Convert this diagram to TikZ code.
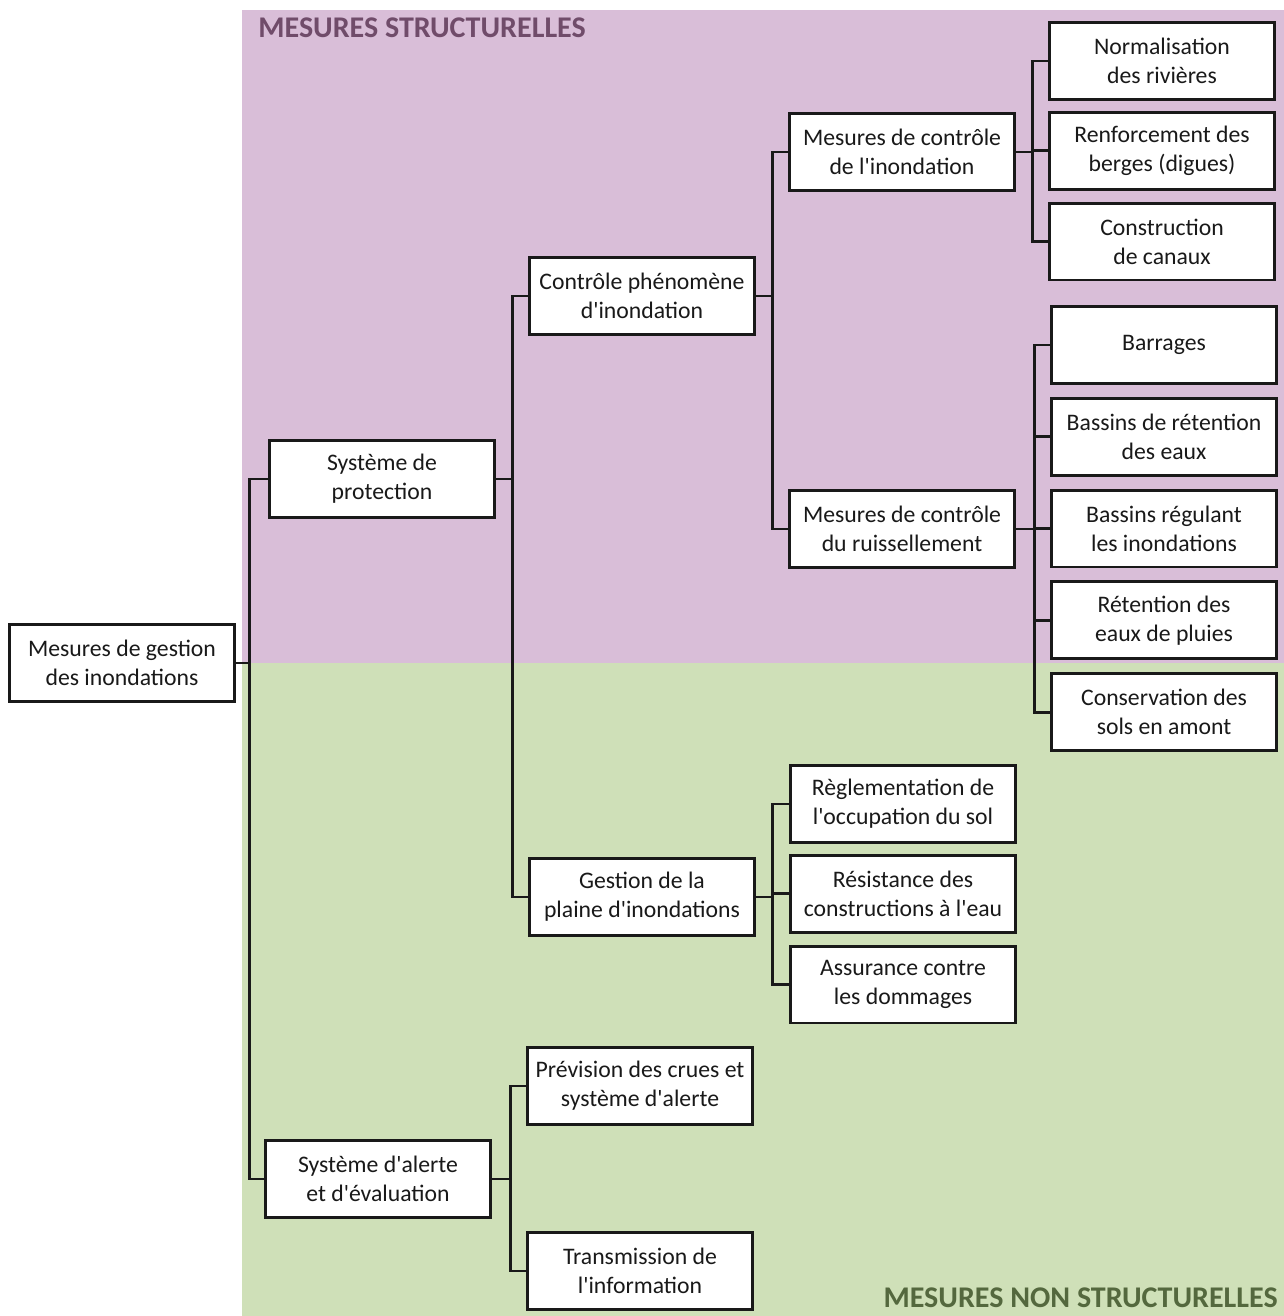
\documentclass[tikz,border=0pt]{standalone}
\usepackage{fontspec}
\newfontfamily\boxfont{Carlito}
\usetikzlibrary{positioning}
\definecolor{structband}{RGB}{217,190,216}
\definecolor{nonstructband}{RGB}{207,224,184}
\definecolor{structtext}{RGB}{112,76,106}
\definecolor{nonstructtext}{RGB}{84,104,62}
\definecolor{ink}{RGB}{25,25,25}

\begin{document}
\begin{tikzpicture}[
  x=0.02cm, y=-0.02cm,
  node distance=0.24cm and 0.5cm,
  box/.style={draw=ink, line width=1.6pt, fill=white, text=ink, minimum width=4.5cm, minimum height=1.54cm, align=center, inner sep=2pt, font=\boxfont\fontsize{13.5}{16.5}\selectfont},
  link/.style={draw=ink, line width=1.6pt},
  band/.style={font=\boxfont\bfseries\fontsize{17.1}{20}\selectfont}
]
\useasboundingbox (0,0) rectangle (1284,1316);
% bands
\fill[structband] (242,10) rectangle (1284,663);
\fill[nonstructband] (242,663) rectangle (1284,1316);
\node[band, text=structtext, anchor=base west, inner sep=0pt] (tstruct) at (258,37) {MESURES STRUCTURELLES};
\node[band, text=nonstructtext, anchor=base east, inner sep=0pt] (tnonstruct) at (1278,1307) {MESURES NON STRUCTURELLES};

% tree
\node[box] (root) at (122,663) {Mesures de gestion\\des inondations};
\node[box] (prot) at (382,479) {Système de\\protection};
\node[box] (alerte) at (378,1179) {Système d'alerte\\et d'évaluation};
\node[box] (phen) at (642,296) {Contrôle phénomène\\d'inondation};
\node[box] (plaine) at (642,897) {Gestion de la\\plaine d'inondations};
\node[box] (prev) at (640,1086) {Prévision des crues et\\système d'alerte};
\node[box] (trans) at (640,1271) {Transmission de\\l'information};
\node[box] (inond) at (902,152) {Mesures de contrôle\\de l'inondation};
\node[box] (ruis) at (902,529) {Mesures de contrôle\\du ruissellement};

\node[box] (norm) at (1162,61) {Normalisation\\des rivières};
\node[box, below=0.2cm of norm] (renf) {Renforcement des\\berges (digues)};
\node[box, below=0.22cm of renf] (constr) {Construction\\de canaux};

\node[box] (barr) at (1164,345) {Barrages};
\node[box, below=of barr] (bass) {Bassins de rétention\\des eaux};
\node[box, below=of bass] (regul) {Bassins régulant\\les inondations};
\node[box, below=of regul] (retent) {Rétention des\\eaux de pluies};
\node[box, below=of retent] (conserv) {Conservation des\\sols en amont};

\node[box] (regl) at (903,804) {Règlementation de\\l'occupation du sol};
\node[box, below=0.2cm of regl] (resist) {Résistance des\\constructions à l'eau};
\node[box, below=0.22cm of resist] (assur) {Assurance contre\\les dommages};

% connectors
\foreach \c in {prot,alerte} \draw[link] (root.east) -- ++(14,0) |- (\c.west);
\foreach \c in {phen,plaine} \draw[link] (prot.east) -- ++(17,0) |- (\c.west);
\foreach \c in {inond,ruis} \draw[link] (phen.east) -- ++(17,0) |- (\c.west);
\foreach \c in {norm,renf,constr} \draw[link] (inond.east) -- ++(17,0) |- (\c.west);
\foreach \c in {barr,bass,regul,retent,conserv} \draw[link] (ruis.east) -- ++(19,0) |- (\c.west);
\foreach \c in {regl,resist,assur} \draw[link] (plaine.east) -- ++(17,0) |- (\c.west);
\foreach \c in {prev,trans} \draw[link] (alerte.east) -- ++(19,0) |- (\c.west);
\end{tikzpicture}
\end{document}
